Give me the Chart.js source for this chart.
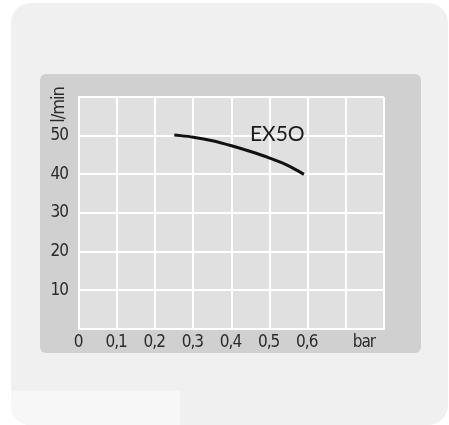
<!DOCTYPE html>
<html>
<head>
<meta charset="utf-8">
<script src="https://cdn.jsdelivr.net/npm/chart.js@4/dist/chart.umd.min.js"></script>
<style>
  body { margin: 0; background: #fff; width: 449px; height: 425px; overflow: hidden; position: relative; }
  #card { position: absolute; left: 11px; top: 3px; width: 437px; height: 422px; background: #f0f0f0; border-radius: 20px; overflow: hidden; }
  #patch { position: absolute; left: 0; top: 388px; width: 169px; height: 34px; background: #f7f7f7; }
  #panel { position: absolute; left: 40px; top: 74px; width: 381px; height: 279px; background: #d0d0d0; border-radius: 6px; }
</style>
</head>
<body>
<div id="card"><div id="patch"></div></div>
<div id="panel"><canvas id="chart"></canvas></div>
<script>
// 曲線データ（圧力 bar / 流量 l/min）
const seriesName = 'EX5O';
const pressure = [0.25, 0.3, 0.35, 0.4, 0.45, 0.5, 0.55, 0.59];
const flow = [50.2, 49.6, 48.7, 47.4, 45.9, 44.2, 42.2, 40.0];

// 軸の目盛り
const xTickValues = [0, 0.1, 0.2, 0.3, 0.4, 0.5, 0.6, 0.7, 0.75, 0.8];
const xTickLabels = ['0', '0,1', '0,2', '0,3', '0,4', '0,5', '0,6', '', 'bar', ''];
const yTickValues = [0, 10, 20, 30, 40, 50, 60];
const yTickLabels = ['', '10', '20', '30', '40', '50', ''];
const yUnit = 'l/min';

const narrowFamily = "'Liberation Sans Narrow', 'DejaVu Sans Condensed', 'Liberation Sans', sans-serif";
const tickFont = { family: narrowFamily, size: 17 };

// プロット背景とラベル
const decoPlugin = {
    id: 'deco',
    beforeDraw(chart) {
        const { ctx, chartArea: a } = chart;
        ctx.save();
        ctx.fillStyle = '#e0e0e0';
        ctx.fillRect(a.left, a.top, a.right - a.left, a.bottom - a.top);
        ctx.restore();
        ctx.letterSpacing = '-1px'; // 細めの目盛り文字に近づける
    },
    afterDatasetsDraw(chart) {
        const { ctx, chartArea: a, scales } = chart;
        ctx.save();
        // 縦軸の単位
        ctx.translate(a.left - 19.5, a.top + 8);
        ctx.rotate(-Math.PI / 2);
        ctx.font = "18px " + narrowFamily;
        ctx.fillStyle = '#2a2a2a';
        ctx.textAlign = 'center';
        ctx.textBaseline = 'middle';
        ctx.fillText(yUnit, 0, 0);
        ctx.restore();

        // 系列名
        ctx.letterSpacing = '0px';
        ctx.save();
        ctx.font = "21px Lato, sans-serif";
        ctx.fillStyle = '#1a1a1a';
        ctx.textAlign = 'center';
        ctx.textBaseline = 'middle';
        ctx.fillText(seriesName, scales.x.getPixelForValue(0.52), scales.y.getPixelForValue(50.45));
        ctx.restore();
    }
};

const gridColor = (c) => (c.tick && c.tick.value === 0.75) ? 'rgba(0,0,0,0)' : '#ffffff';

new Chart(document.getElementById('chart'), {
    type: 'line',
    data: {
        datasets: [{
            label: seriesName,
            data: pressure.map((p, i) => ({ x: p, y: flow[i] })),
            borderColor: '#111111',
            borderWidth: 3,
            pointRadius: 0,
            tension: 0.4,
            cubicInterpolationMode: 'monotone',
            fill: false
        }]
    },
    options: {
        responsive: true,
        maintainAspectRatio: false,
        animation: false,
        layout: { padding: { left: 0, top: 23, right: 37, bottom: 0 } },
        plugins: { legend: { display: false }, tooltip: { enabled: false } },
        scales: {
            x: {
                type: 'linear',
                min: 0,
                max: 0.8,
                afterBuildTicks: (s) => { s.ticks = xTickValues.map(v => ({ value: v })); },
                afterFit: (s) => { s.height = 24; },
                ticks: {
                    autoSkip: false,
                    maxRotation: 0,
                    padding: 3,
                    labelOffset: -1,
                    color: '#2a2a2a',
                    font: tickFont,
                    callback: (v) => xTickLabels[xTickValues.indexOf(v)] ?? ''
                },
                grid: { color: gridColor, lineWidth: 2, drawTicks: false },
                border: { display: true, color: '#ffffff', width: 2 }
            },
            y: {
                min: 0,
                max: 60,
                afterBuildTicks: (s) => { s.ticks = yTickValues.map(v => ({ value: v })); },
                afterFit: (s) => { s.width = 39; },
                ticks: {
                    autoSkip: false,
                    padding: 11,
                    color: '#2a2a2a',
                    font: tickFont,
                    callback: (v) => yTickLabels[yTickValues.indexOf(v)] ?? ''
                },
                grid: { color: '#ffffff', lineWidth: 2, drawTicks: false },
                border: { display: true, color: '#ffffff', width: 2 }
            }
        }
    },
    plugins: [decoPlugin]
});
</script>
</body>
</html>
